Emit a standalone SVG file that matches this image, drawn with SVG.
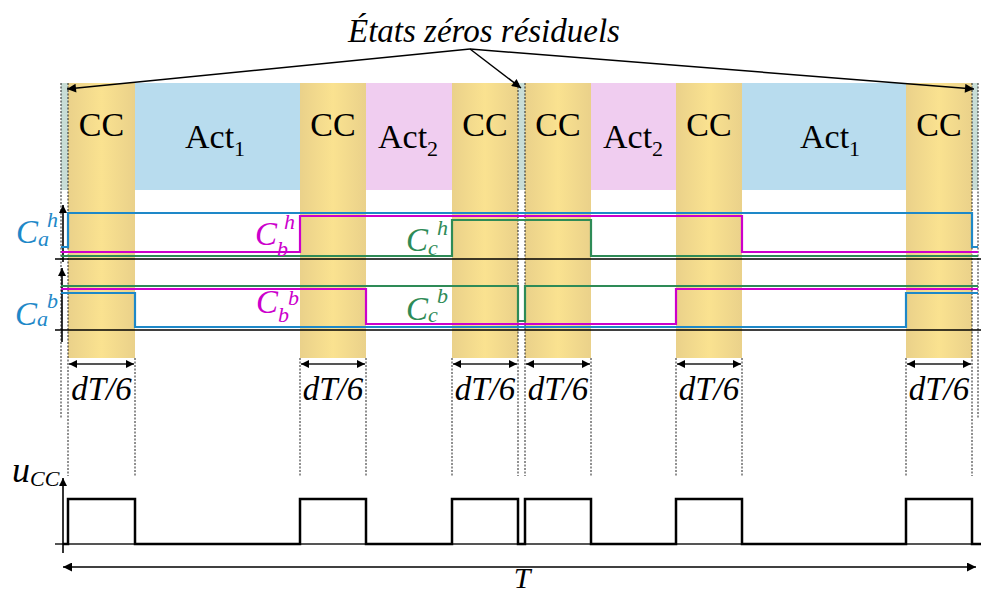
<svg xmlns="http://www.w3.org/2000/svg" width="981" height="594" viewBox="0 0 981 594">
<style>
.dash{stroke:#222;stroke-width:1;stroke-dasharray:2,1.5;fill:none}
.sig{fill:none;stroke-width:2.2;stroke-linejoin:miter}
.ax{stroke:#000;stroke-width:1.6;fill:none}
</style>
<defs>
<linearGradient id="ccg" x1="0" x2="1" y1="0" y2="0">
<stop offset="0" stop-color="#EAD18A"/><stop offset="0.5" stop-color="#FAE290"/><stop offset="1" stop-color="#EAD18A"/>
</linearGradient>
<marker id="ah" viewBox="0 0 10 10" refX="10" refY="5" markerWidth="13" markerHeight="9" markerUnits="userSpaceOnUse" orient="auto-start-reverse"><path d="M0,0 L10,5 L0,10 z" fill="#000"/></marker>
<marker id="sa" viewBox="0 0 10 10" refX="10" refY="5" markerWidth="9" markerHeight="8" markerUnits="userSpaceOnUse" orient="auto-start-reverse"><path d="M0,0 L10,5 L0,10 z" fill="#000"/></marker>
</defs>
<rect width="981" height="594" fill="#fff"/>
<g id="bands">
<rect x="61" y="83" width="7" height="107" fill="#C8DDD6"/>
<rect x="518" y="83" width="7" height="107" fill="#C8DDD6"/>
<rect x="972" y="83" width="6" height="107" fill="#C8DDD6"/>
<rect id="act1a" x="135" y="83" width="165" height="107" fill="#B8DCEE"/>
<rect id="act2a" x="366" y="83" width="86" height="107" fill="#F0CDF0"/>
<rect id="act2b" x="591" y="83" width="85" height="107" fill="#F0CDF0"/>
<rect id="act1b" x="742" y="83" width="164" height="107" fill="#B8DCEE"/>
<rect x="68" y="83" width="67" height="275" fill="url(#ccg)"/>
<rect x="300" y="83" width="66" height="275" fill="url(#ccg)"/>
<rect x="452" y="83" width="66" height="275" fill="url(#ccg)"/>
<rect x="525" y="83" width="66" height="275" fill="url(#ccg)"/>
<rect x="676" y="83" width="66" height="275" fill="url(#ccg)"/>
<rect x="906" y="83" width="66" height="275" fill="url(#ccg)"/>
</g>
<g id="dashes">
<path class="dash" d="M61,83V418 M978,83V418 M68,83V476 M518,83V476 M525,83V476 M972,83V476 M135,358V476 M300,358V476 M366,358V476 M452,358V476 M591,358V476 M676,358V476 M742,358V476 M906,358V476"/>
</g>
<g id="band-labels" font-family="'Liberation Serif', 'Times New Roman', serif" font-size="34" fill="#000">
<text x="101.5" y="136" text-anchor="middle">CC</text>
<text x="333" y="136" text-anchor="middle">CC</text>
<text x="485" y="136" text-anchor="middle">CC</text>
<text x="558" y="136" text-anchor="middle">CC</text>
<text x="709" y="136" text-anchor="middle">CC</text>
<text x="939" y="136" text-anchor="middle">CC</text>
<text x="185" y="148">Act<tspan font-size="22" dy="8">1</tspan></text>
<text x="378" y="148">Act<tspan font-size="22" dy="8">2</tspan></text>
<text x="603" y="148">Act<tspan font-size="22" dy="8">2</tspan></text>
<text x="800" y="148">Act<tspan font-size="22" dy="8">1</tspan></text>
</g>
<g id="title">
<text font-family="'Liberation Serif', 'Times New Roman', serif" font-style="italic" x="348" y="42" font-size="33">États zéros résiduels</text>
</g>
<g id="connectors">
<path d="M470,49 L67,89" stroke="#000" stroke-width="1.5" fill="none" marker-end="url(#ah)"/>
<path d="M470,49 L521,88" stroke="#000" stroke-width="1.5" fill="none" marker-end="url(#ah)"/>
<path d="M470,49 L974,89" stroke="#000" stroke-width="1.5" fill="none" marker-end="url(#ah)"/>
<path d="M69,364 H134" stroke="#555" stroke-width="2" marker-start="url(#sa)" marker-end="url(#sa)"/>
<path d="M301,364 H365" stroke="#555" stroke-width="2" marker-start="url(#sa)" marker-end="url(#sa)"/>
<path d="M453,364 H517" stroke="#555" stroke-width="2" marker-start="url(#sa)" marker-end="url(#sa)"/>
<path d="M526,364 H590" stroke="#555" stroke-width="2" marker-start="url(#sa)" marker-end="url(#sa)"/>
<path d="M677,364 H741" stroke="#555" stroke-width="2" marker-start="url(#sa)" marker-end="url(#sa)"/>
<path d="M907,364 H971" stroke="#555" stroke-width="2" marker-start="url(#sa)" marker-end="url(#sa)"/>
<path d="M63,567 H976" stroke="#000" stroke-width="1.5" marker-start="url(#ah)" marker-end="url(#ah)"/>
</g>
<g id="axes">
<path class="ax" d="M55,259 H981 M55,330 H981"/>
<path class="ax" d="M63,262 V205" marker-end="url(#sa)"/>
<path class="ax" d="M62,342 V268" marker-end="url(#sa)"/>
<path d="M55,544 H981" stroke="#555" stroke-width="2"/>
<path class="ax" d="M63,553 V478" marker-end="url(#sa)"/>
</g>
<g id="signals">
<path class="sig" stroke="#2E8B57" d="M61,256 H452 V220 H591 V256 H978"/>
<path class="sig" stroke="#CC00CC" d="M61,252 H300 V216 H742 V252 H978"/>
<path class="sig" stroke="#1E88C8" d="M61,247 H68 V213 H972 V247 H978"/>
<path class="sig" stroke="#2E8B57" d="M61,286 H518 V321 H525 V286 H978"/>
<path class="sig" stroke="#CC00CC" d="M61,289 H366 V324 H676 V289 H978"/>
<path class="sig" stroke="#1E88C8" d="M61,293 H135 V327 H906 V293 H978"/>
<path fill="none" stroke="#000" stroke-width="2.5" d="M63,544 H68 V499 H135 V544 H300 V499 H366 V544 H452 V499 H518 V544 H525 V499 H591 V544 H676 V499 H742 V544 H906 V499 H972 V544 H981"/>
</g>
<g id="signal-labels" font-family="'Liberation Serif', 'Times New Roman', serif" font-style="italic" font-size="33">
<text x="16" y="243" fill="#1E88C8">C<tspan font-size="22" dy="3">a</tspan><tspan font-size="22" x="47" y="227">h</tspan></text>
<text x="255" y="245" fill="#CC00CC">C<tspan font-size="22" dy="11">b</tspan><tspan font-size="22" x="284" y="229">h</tspan></text>
<text x="406" y="251" fill="#2E8B57">C<tspan font-size="22" dy="4">c</tspan><tspan font-size="22" x="437" y="235">h</tspan></text>
<text x="15" y="325" fill="#1E88C8">C<tspan font-size="22" dy="1">a</tspan><tspan font-size="22" x="47" y="308">b</tspan></text>
<text x="256" y="313" fill="#CC00CC">C<tspan font-size="22" dy="9">b</tspan><tspan font-size="22" x="288" y="305">b</tspan></text>
<text x="406" y="320" fill="#2E8B57">C<tspan font-size="22" dy="2">c</tspan><tspan font-size="22" x="437" y="303">b</tspan></text>
</g>
<g id="time-labels" font-family="'Liberation Serif', 'Times New Roman', serif" font-style="italic" font-size="33">
<text x="101.5" y="400" text-anchor="middle">dT/6</text>
<text x="333" y="400" text-anchor="middle">dT/6</text>
<text x="485" y="400" text-anchor="middle">dT/6</text>
<text x="558" y="400" text-anchor="middle">dT/6</text>
<text x="709" y="400" text-anchor="middle">dT/6</text>
<text x="939" y="400" text-anchor="middle">dT/6</text>
<text x="12" y="482" font-size="36">u<tspan font-size="22" dy="4">CC</tspan></text>
<text x="522" y="588" text-anchor="middle" font-size="30">T</text>
</g>
</svg>
